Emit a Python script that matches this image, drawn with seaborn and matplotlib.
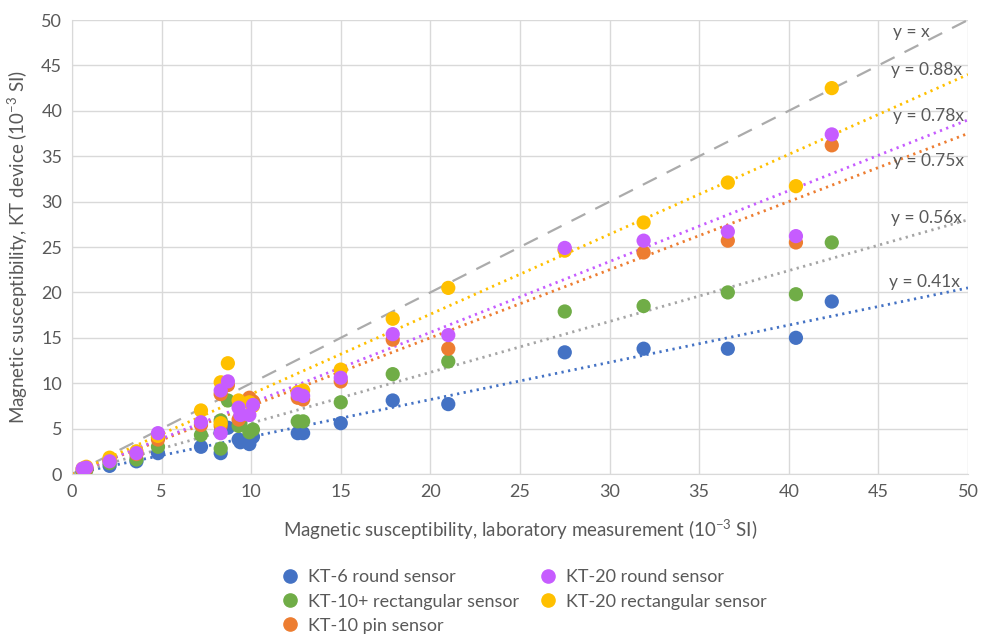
import numpy as np
import matplotlib
import matplotlib.pyplot as plt
import pandas as pd
import seaborn as sns
from matplotlib.lines import Line2D

matplotlib.rcParams['figure.dpi'] = 100

# laboratory measurement (x) shared by all sensors
lab_x = [0.6, 0.8, 2.1, 3.6, 4.8, 7.2, 8.3, 8.3, 8.7, 9.3, 9.4, 9.9, 10.1,
         12.6, 12.9, 15.0, 17.9, 21.0, 27.5, 31.9, 36.6, 40.4, 42.4]

kt6_round = [0.3, 0.6, 0.9, 1.4, 2.3, 3.0, 2.3, 4.6, 5.1, 3.8, 3.5, 3.3, 4.1,
             4.5, 4.5, 5.6, 8.1, 7.7, 13.4, 13.8, 13.8, 15.0, 19.0]
kt10p_rect = [0.1, 0.4, 1.2, 1.6, 3.0, 4.3, 2.8, 5.9, 8.1, 5.3, 5.6, 4.6, 4.9,
              5.8, 5.8, 7.9, 11.0, 12.4, 17.9, 18.5, 20.0, 19.8, 25.5]
kt10_pin = [0.5, 0.6, 1.5, 2.2, 3.8, 5.4, 5.3, 8.8, 9.8, 6.0, 6.3, 8.4, 8.0,
            8.4, 8.2, 10.2, 14.8, 13.8, 24.7, 24.4, 25.7, 25.5, 36.2]
kt20_round = [0.6, 0.7, 1.4, 2.3, 4.5, 5.7, 4.5, 9.2, 10.2, 7.3, 6.5, 6.5, 7.6,
              8.8, 8.6, 10.6, 15.4, 15.3, 24.9, 25.7, 26.7, 26.2, 37.4]
kt20_rect = [0.6, 0.8, 1.8, 2.5, 4.2, 7.0, 5.6, 10.1, 12.2, 8.1, 7.8, 7.9, 7.5,
             9.0, 9.2, 11.5, 17.1, 20.5, 24.6, 27.7, 32.1, 31.7, 42.5]

series_names = ['KT-6 round sensor', 'KT-10+ rectangular sensor', 'KT-10 pin sensor',
                'KT-20 round sensor', 'KT-20 rectangular sensor']
series_values = [kt6_round, kt10p_rect, kt10_pin, kt20_round, kt20_rect]
slopes = [0.41, 0.56, 0.75, 0.78, 0.88]

colors = ['#4472C4', '#70AD47', '#ED7D31', '#C65CFF', '#FFC000']
trend_colors = ['#4472C4', '#A5A5A5', '#ED7D31', '#C65CFF', '#FFC000']
draw_order = [0, 1, 2, 4, 3]

sns.set_style('white')
plt.rcParams['font.family'] = ['Lato', 'DejaVu Sans']
plt.rcParams['mathtext.fontset'] = 'custom'
plt.rcParams['mathtext.rm'] = 'Lato'
plt.rcParams['mathtext.it'] = 'Lato'

df = pd.concat([
    pd.DataFrame({'lab': lab_x, 'kt': series_values[i], 'sensor': series_names[i]})
    for i in draw_order
], ignore_index=True)

fig = plt.figure(figsize=(9.83, 6.35))
ax = fig.add_axes([0.0732, 0.2535, 0.9115, 0.7150])

xlim = (0, 50)
line_x = np.array(xlim)

ax.plot(line_x, line_x, color='#ABABAB', lw=1.6, dashes=(7, 5), zorder=1)
for i in range(5):
    ax.plot(line_x, slopes[i] * line_x, color=trend_colors[i], lw=2.0,
            linestyle=(0, (0.8, 1.6)), zorder=1)

sns.scatterplot(data=df, x='lab', y='kt', hue='sensor', hue_order=series_names,
                palette=colors, s=105, linewidth=0, alpha=1, legend=False,
                ax=ax, zorder=3)

ax.set_xlim(*xlim)
ax.set_ylim(0, 50)
ax.set_xticks(range(0, 51, 5))
ax.set_yticks(range(0, 51, 5))
ax.grid(True, color='#D9D9D9', lw=1)
ax.set_axisbelow(True)
for side in ['top', 'right']:
    ax.spines[side].set_visible(False)
for side in ['left', 'bottom']:
    ax.spines[side].set_color('#D9D9D9')
ax.tick_params(length=0, labelsize=13, labelcolor='#595959', pad=7)

ax.set_xlabel('Magnetic susceptibility, laboratory measurement (10$^{-3}$ SI)',
              fontsize=13.5, color='#595959', labelpad=13)
ax.set_ylabel('Magnetic susceptibility, KT device (10$^{-3}$ SI)',
              fontsize=13.5, color='#595959', labelpad=8)

# equation labels
eq_labels = ['y = x', 'y = 0.88x', 'y = 0.78x', 'y = 0.75x', 'y = 0.56x', 'y = 0.41x']
eq_x = [45.8, 45.7, 45.8, 45.8, 45.7, 45.6]
eq_y = [48.7, 44.5, 39.4, 34.5, 28.2, 21.1]
for t, xx, yy in zip(eq_labels, eq_x, eq_y):
    ax.text(xx, yy, t, fontsize=12.5, color='#595959', va='center', ha='left')

handles = [Line2D([], [], marker='o', ls='', color=c, markersize=9.5) for c in colors]
fig.legend(handles, series_names, loc='upper center', bbox_to_anchor=(0.532, 0.126),
           ncol=2, frameon=False, fontsize=13, handletextpad=0.4, columnspacing=1.0,
           labelspacing=0.45, handlelength=1.2, labelcolor='#595959',
           borderpad=0.3)

fig.savefig('out.png', dpi=100)
